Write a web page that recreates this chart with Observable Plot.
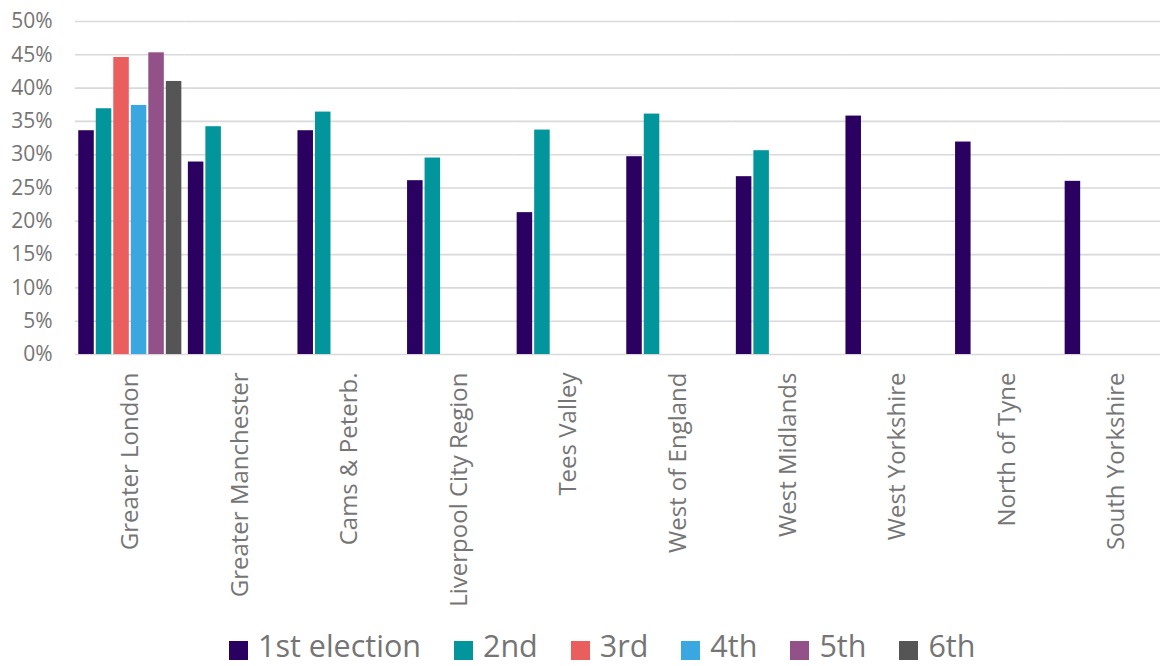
<!DOCTYPE html>
<html>
<head>
<meta charset="utf-8">
<script src="https://cdn.jsdelivr.net/npm/d3@7"></script>
<script src="https://cdn.jsdelivr.net/npm/@observablehq/plot@0.6"></script>
<style>
  html, body { margin: 0; padding: 0; background: #fff; }
  #wrap { position: relative; width: 1160px; height: 666px; overflow: hidden; }
  #legend { position: absolute; left: 229px; top: 630px; display: flex; align-items: center;
            font-family: "Open Sans", sans-serif; font-size: 30.5px; line-height: 30px; color: #757575; white-space: nowrap; }
  #legend .item { display: flex; align-items: center; margin-right: 33px; }
  #legend .sw { width: 19px; height: 19px; margin-right: 10px; position: relative; top: 5px; }
</style>
</head>
<body>
<div id="wrap"><div id="chart"></div><div id="legend"></div></div>
<script>
const regions = ["Greater London", "Greater Manchester", "Cams & Peterb.", "Liverpool City Region",
  "Tees Valley", "West of England", "West Midlands", "West Yorkshire", "North of Tyne", "South Yorkshire"];
const elections = ["1st election", "2nd", "3rd", "4th", "5th", "6th"];
const colors = ["#2a0060", "#02969c", "#eb5e5e", "#3ba7e0", "#925289", "#555555"];

// values in percent, per region (null = no election)
const first  = [33.6, 28.9, 33.6, 26.1, 21.3, 29.7, 26.7, 35.8, 31.9, 26.0];
const second = [36.9, 34.2, 36.4, 29.5, 33.7, 36.1, 30.6, null, null, null];
const third  = [44.6, null, null, null, null, null, null, null, null, null];
const fourth = [37.4, null, null, null, null, null, null, null, null, null];
const fifth  = [45.3, null, null, null, null, null, null, null, null, null];
const sixth  = [41.0, null, null, null, null, null, null, null, null, null];
const yTicks = [0, 5, 10, 15, 20, 25, 30, 35, 40, 45, 50];

const seriesList = [first, second, third, fourth, fifth, sixth];
const data = [];
regions.forEach((r, i) => {
  seriesList.forEach((vals, j) => {
    if (vals[i] != null) data.push({region: r, election: elections[j], value: vals[i] / 100});
  });
});
const ticks = yTicks.map(d => d / 100);

const chart = Plot.plot({
  width: 1160,
  height: 610,
  marginLeft: 75,
  marginRight: -11,
  marginTop: 21,
  marginBottom: 256,
  style: {fontFamily: "'Open Sans', sans-serif", color: "#757575", background: "#fff"},
  fx: {domain: regions, padding: 0, round: false, label: null},
  x: {domain: elections, paddingInner: 0.114, paddingOuter: 0.186, round: false, axis: null},
  y: {domain: [0, 0.5], label: null},
  color: {domain: elections, range: colors},
  marks: [
    Plot.gridY(ticks, {stroke: "#d9d9d9", strokeOpacity: 1, strokeWidth: 1.6}),
    Plot.axisY(ticks, {tickFormat: d3.format(".0%"), tickSize: 0, tickPadding: 23, fontSize: 21, label: null}),
    Plot.axisFx({anchor: "bottom", tickRotate: -90, tickSize: 0, tickPadding: 18, fontSize: 24, label: null}),
    Plot.barY(data, {fx: "region", x: "election", y: "value", fill: "election"})
  ]
});
document.getElementById("chart").appendChild(chart);

const legend = document.getElementById("legend");
elections.forEach((e, i) => {
  const item = document.createElement("div");
  item.className = "item";
  const sw = document.createElement("span");
  sw.className = "sw";
  sw.style.background = colors[i];
  const t = document.createElement("span");
  t.textContent = e;
  item.appendChild(sw);
  item.appendChild(t);
  legend.appendChild(item);
});
</script>
</body>
</html>
